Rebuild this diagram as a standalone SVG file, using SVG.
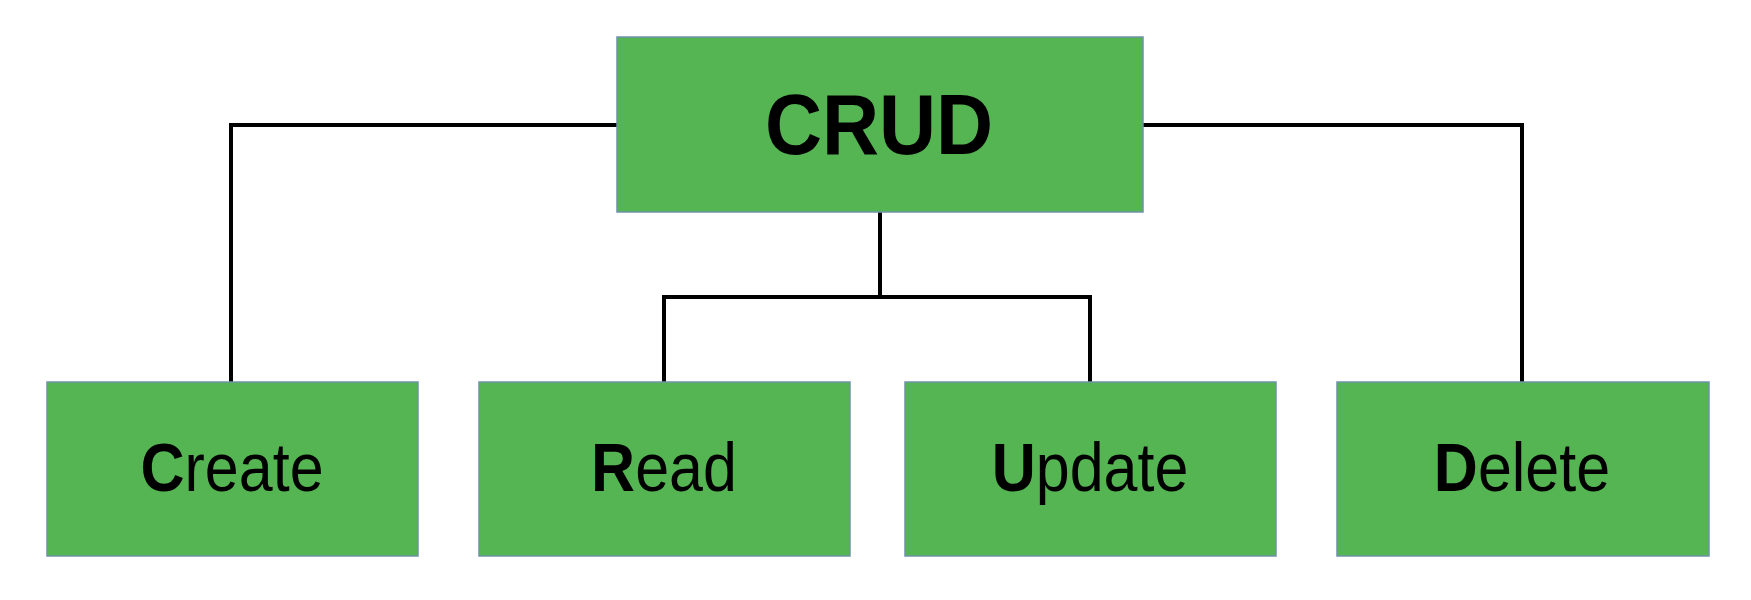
<svg xmlns="http://www.w3.org/2000/svg" width="1751" height="600" viewBox="0 0 1751 600">
<style>
.box{fill:#55b552;stroke:#6f93a8;stroke-width:1.5}
.conn{fill:none;stroke:#000;stroke-width:4}
.t{font-family:"Liberation Sans",Arial,sans-serif;fill:#000;text-anchor:middle}
.big{font-size:79px;font-weight:bold}
.lbl{font-size:61px}
.b{font-weight:bold}
</style>
<rect width="1751" height="600" fill="#fff"/>
<g id="connectors">
<polyline class="conn" points="617,125 231,125 231,382"/>
<polyline class="conn" points="1143,125 1522,125 1522,382"/>
<line class="conn" x1="880" y1="212" x2="880" y2="297"/>
<polyline class="conn" points="664,382 664,297 1090,297 1090,382"/>
</g>
<g id="crud">
<rect class="box" x="617" y="37" width="526" height="175"/>
<text class="t big" transform="translate(879,154) scale(1,1.07)">CRUD</text>
</g>
<g id="create">
<rect class="box" x="47" y="382" width="371" height="174"/>
<text class="t lbl" transform="translate(232,491) scale(1,1.11)"><tspan class="b">C</tspan>reate</text>
</g>
<g id="read">
<rect class="box" x="479" y="382" width="371" height="174"/>
<text class="t lbl" transform="translate(664,491) scale(1,1.11)"><tspan class="b">R</tspan>ead</text>
</g>
<g id="update">
<rect class="box" x="905" y="382" width="371" height="174"/>
<text class="t lbl" transform="translate(1090,491) scale(1,1.11)"><tspan class="b">U</tspan>pdate</text>
</g>
<g id="delete">
<rect class="box" x="1337" y="382" width="372" height="174"/>
<text class="t lbl" transform="translate(1522,491) scale(1,1.11)"><tspan class="b">D</tspan>elete</text>
</g>
</svg>
